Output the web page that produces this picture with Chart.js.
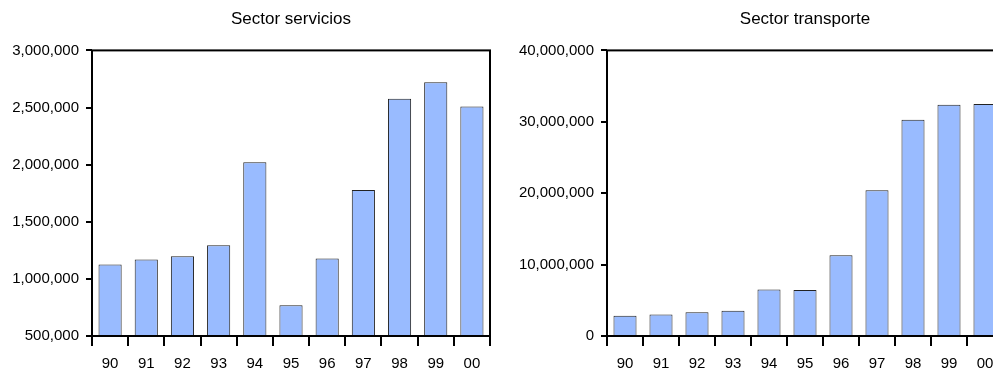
<!DOCTYPE html>
<html>
<head>
<meta charset="utf-8">
<script src="https://cdn.jsdelivr.net/npm/chart.js@4.4.1/dist/chart.umd.min.js"></script>
<style>
  html, body { margin: 0; padding: 0; background: #fff; overflow: hidden; }
  #wrap { position: relative; width: 993px; height: 369px; overflow: hidden; }
  #c1 { position: absolute; left: 0; top: 0; }
  #c2 { position: absolute; left: 500px; top: 0; }
</style>
</head>
<body>
<div id="wrap">
  <canvas id="c1" width="500" height="369"></canvas>
  <canvas id="c2" width="520" height="369"></canvas>
</div>
<script>
// years (two digits) shown under both charts
const years = ["90","91","92","93","94","95","96","97","98","99","00"];

// Sector servicios
const servicios = [1125000, 1170000, 1198000, 1295000, 2020000, 770000, 1178000, 1778000, 2576000, 2722000, 2509000];
const serviciosTicks = [500000, 1000000, 1500000, 2000000, 2500000, 3000000];

// Sector transporte
const transporte = [2820000, 3000000, 3340000, 3520000, 6520000, 6440000, 11300000, 20400000, 30300000, 32400000, 32500000];
const transporteTicks = [0, 10000000, 20000000, 30000000, 40000000];

const FONT = "'Liberation Sans', Arial, sans-serif";
Chart.defaults.font.family = FONT;
Chart.defaults.color = "#000";

// black frame around the plot area
const framePlugin = {
  id: "frame",
  afterDraw(chart) {
    const a = chart.chartArea;
    const ctx = chart.ctx;
    ctx.save();
    ctx.strokeStyle = "#000";
    ctx.lineWidth = 2;
    ctx.strokeRect(a.left, a.top, a.right - a.left, a.bottom - a.top);
    ctx.restore();
  }
};

function makeChart(id, title, values, ticks, axisWidth, padRight) {
  return new Chart(document.getElementById(id), {
    type: "bar",
    data: {
      labels: years,
      datasets: [{
        data: values,
        backgroundColor: "#99bbff",
        borderColor: "#222",
        borderWidth: 1,
        borderSkipped: "bottom",
        categoryPercentage: 1,
        barPercentage: 0.64
      }]
    },
    options: {
      responsive: false,
      animation: false,
      layout: { padding: { top: 0, right: padRight, bottom: 0, left: 0 } },
      plugins: {
        legend: { display: false },
        tooltip: { enabled: false },
        title: {
          display: true,
          text: title,
          fullSize: false,
          color: "#000",
          font: { size: 17, weight: "normal", lineHeight: 1.2 },
          padding: { top: 9, bottom: 21 }
        }
      },
      scales: {
        x: {
          offset: true,
          afterFit(scale) { scale.height = 33; },
          border: { display: false },
          grid: { display: true, drawOnChartArea: false, drawTicks: true, tickLength: 10, color: "#000", lineWidth: 2, offset: true },
          ticks: { padding: 9, maxRotation: 0, autoSkip: false, font: { size: 15 } }
        },
        y: {
          min: ticks[0],
          max: ticks[ticks.length - 1],
          afterBuildTicks(scale) { scale.ticks = ticks.map(v => ({ value: v })); },
          afterFit(scale) { scale.width = axisWidth; },
          border: { display: false },
          grid: { drawOnChartArea: false, drawTicks: true, tickLength: 6, color: "#000", lineWidth: 2 },
          ticks: {
            padding: 7,
            font: { size: 15 },
            callback: v => Number(v).toLocaleString("en-US")
          }
        }
      }
    },
    plugins: [framePlugin]
  });
}

makeChart("c1", "Sector servicios", servicios, serviciosTicks, 92, 10);
makeChart("c2", "Sector transporte", transporte, transporteTicks, 107, 17);
</script>
</body>
</html>
